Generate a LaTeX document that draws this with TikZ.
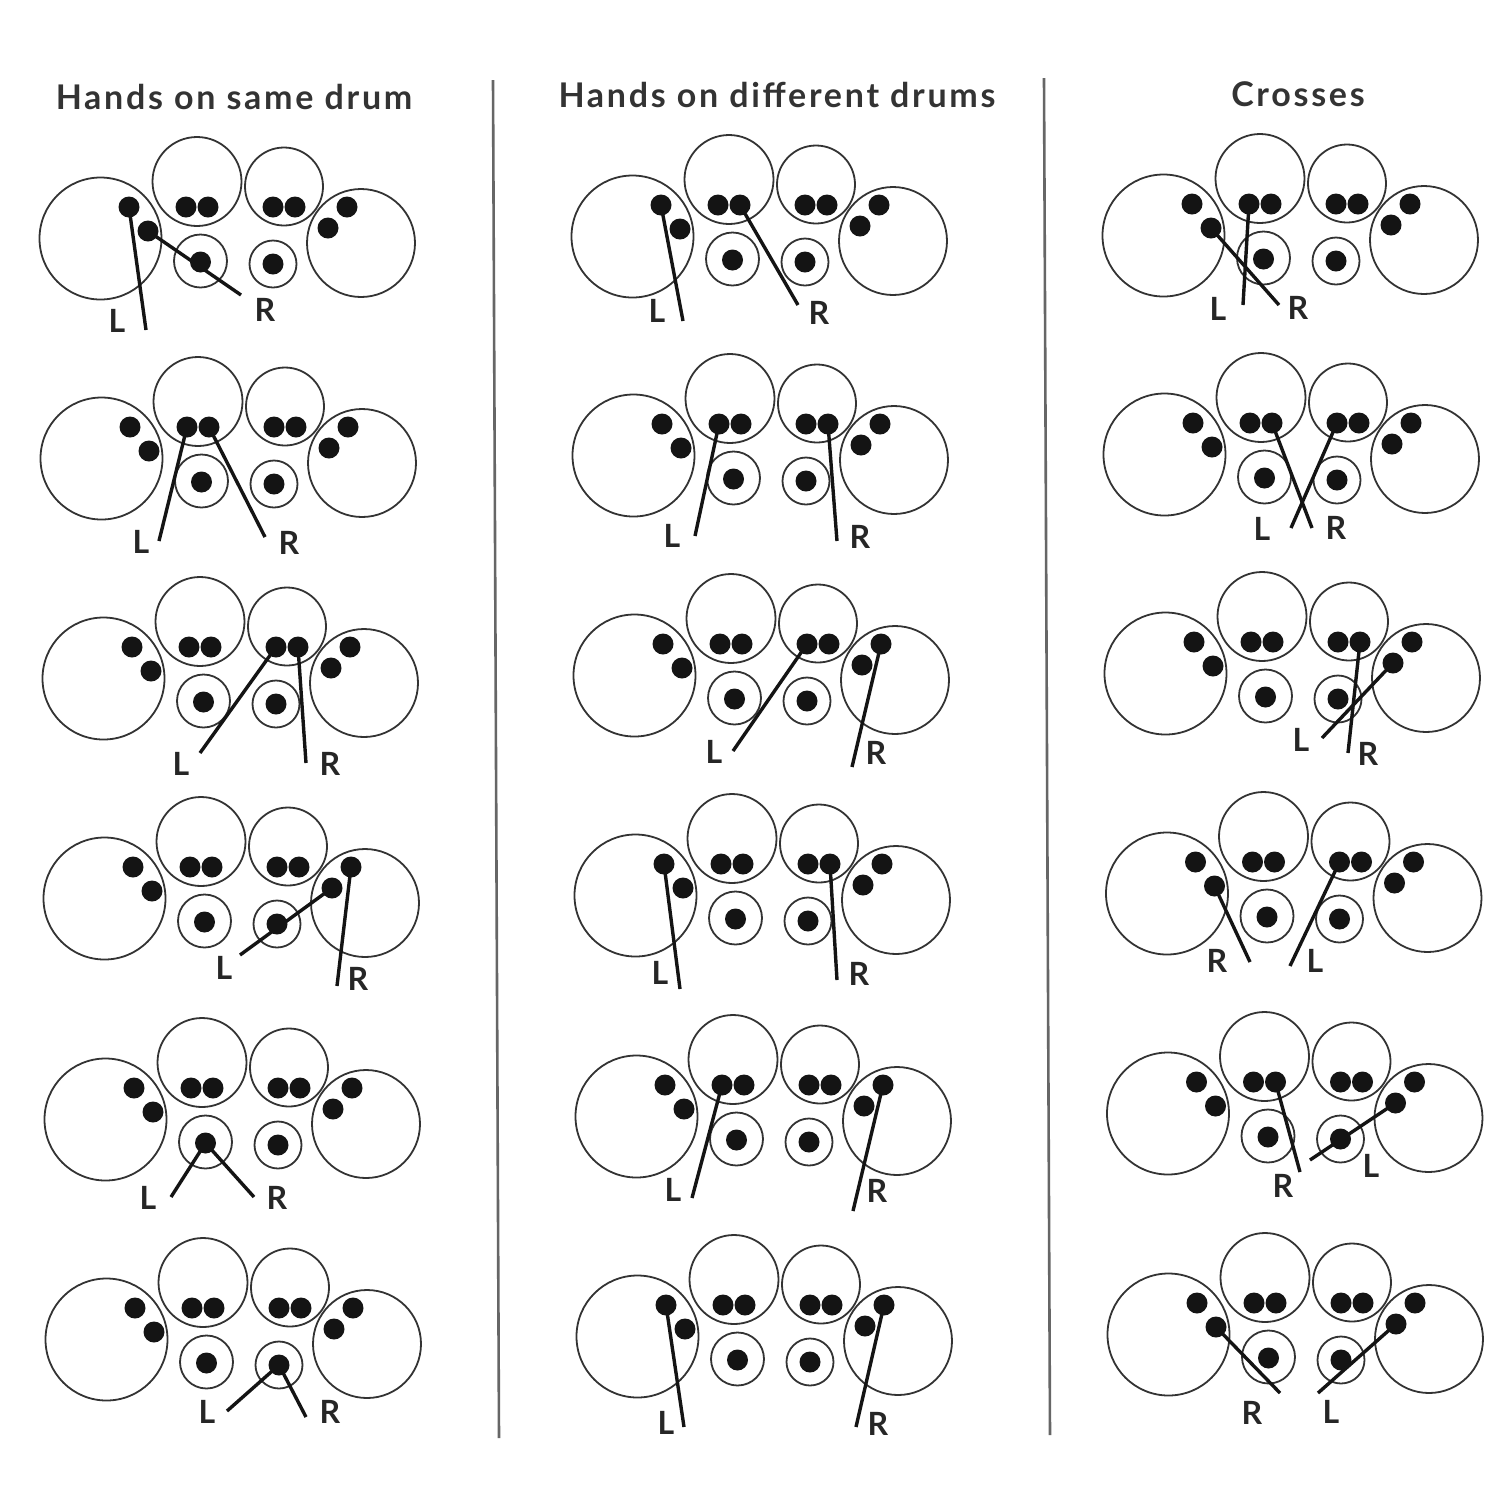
\documentclass[tikz,border=0pt]{standalone}
\usepackage{fontspec}
\setmainfont{Lato}
\newfontfamily\titlefont[LetterSpace=8]{Lato}
\tikzset{
  x=0.5pt,y=-0.5pt,
  ring/.style={circle,draw=black!80,line width=0.9pt,minimum size=#1*0.5pt,inner sep=0pt,outer sep=0pt},
  dotmark/.style={circle,fill=black!92,minimum size=10.5pt,inner sep=0pt,outer sep=0pt},
  handline/.style={black!92,line width=1.7pt},
  handlab/.style={font=\fontsize{16}{16}\selectfont\bfseries,text=black!85,inner sep=0pt},
  headtext/.style={font=\titlefont\fontsize{17}{17}\selectfont\bfseries,text=black!80,inner sep=0pt},
  divider/.style={black!60,line width=1.3pt}
}
\newcommand{\kit}[3]{%
  \begin{scope}[shift={(#2,#3)}]
    \node[ring=122] (#1-bl) at (100.5,238.5) {};
    \node[ring=89]  (#1-tl) at (197,181.5) {};
    \node[ring=78]  (#1-tr) at (284,186.5) {};
    \node[ring=108] (#1-br) at (361,243) {};
    \node[ring=53]  (#1-sl) at (200.5,261) {};
    \node[ring=47]  (#1-sr) at (273,264) {};
    \node[dotmark] (#1-a) at (129,207) {};
    \node[dotmark] (#1-b) at (148,231) {};
    \node[dotmark] (#1-c) at (186,207) {};
    \node[dotmark] (#1-d) at (208,207) {};
    \node[dotmark] (#1-e) at (273,207) {};
    \node[dotmark] (#1-f) at (295,207) {};
    \node[dotmark] (#1-g) at (347,207) {};
    \node[dotmark] (#1-h) at (328,228) {};
    \node[dotmark] (#1-i) at (200.5,262) {};
    \node[dotmark] (#1-j) at (273,264) {};
  \end{scope}}
% start node, id, free end x,y, letter, label x,y
\newcommand{\hand}[7]{%
  \coordinate (#2) at (#3,#4);
  \draw[handline] (#1.center) -- (#2);
  \node[handlab] (#2-lab) at (#6,#7) {#5};}
\begin{document}
\begin{tikzpicture}
\useasboundingbox (0,0) rectangle (1512,1512);
\fill[white] (0,0) rectangle (1512,1512);
\node[headtext] (t1) at (234,97) {Hands on same drum};
\node[headtext] (t2) at (777,95) {Hands on different drums};
\node[headtext] (t3) at (1298,94) {Crosses};
\coordinate (s1a) at (493,80); \coordinate (s1b) at (499,1438);
\coordinate (s2a) at (1044,78); \coordinate (s2b) at (1050,1435);
\draw[divider] (s1a) -- (s1b);
\draw[divider] (s2a) -- (s2b);
% column 1
\kit{p1}{0}{0}
\kit{p2}{1}{220}
\kit{p3}{3}{440}
\kit{p4}{4}{660}
\kit{p5}{5}{881}
\kit{p6}{6}{1101}
\hand{p1-a}{h1l}{146}{330}{L}{117}{321}
\hand{p1-b}{h1r}{241}{295}{R}{265}{310}
\hand{p2-c}{h2l}{159}{541}{L}{141}{542}
\hand{p2-d}{h2r}{265}{537}{R}{289}{543}
\hand{p3-e}{h3l}{200}{753}{L}{181}{764}
\hand{p3-f}{h3r}{306}{763}{R}{330}{764}
\hand{p4-h}{h4l}{240}{955}{L}{224}{968}
\hand{p4-g}{h4r}{337}{986}{R}{358}{979}
\hand{p5-i}{h5l}{171}{1197}{L}{148}{1198}
\hand{p5-i}{h5r}{254}{1197}{R}{277}{1198}
\hand{p6-j}{h6l}{227}{1411}{L}{207}{1412}
\hand{p6-j}{h6r}{306}{1417}{R}{330}{1412}
% column 2
\kit{q1}{532}{-2}
\kit{q2}{533}{217}
\kit{q3}{534}{437}
\kit{q4}{535}{657}
\kit{q5}{536}{878}
\kit{q6}{537}{1098}
\hand{q1-a}{k1l}{683}{321}{L}{657}{311}
\hand{q1-d}{k1r}{798}{305}{R}{819}{313}
\hand{q2-c}{k2l}{695}{536}{L}{672}{536}
\hand{q2-f}{k2r}{837}{541}{R}{860}{537}
\hand{q3-e}{k3l}{733}{751}{L}{714}{752}
\hand{q3-g}{k3r}{852}{767}{R}{876}{753}
\hand{q4-a}{k4l}{680}{989}{L}{660}{973}
\hand{q4-f}{k4r}{837}{980}{R}{859}{974}
\hand{q5-c}{k5l}{692}{1198}{L}{673}{1190}
\hand{q5-g}{k5r}{853}{1211}{R}{877}{1191}
\hand{q6-a}{k6l}{684}{1427}{L}{666}{1423}
\hand{q6-g}{k6r}{856}{1427}{R}{878}{1424}
% column 3
\kit{r1}{1063}{-3}
\kit{r2}{1064}{216}
\kit{r3}{1065}{435}
\kit{r4}{1066.5}{655}
\kit{r5}{1067.5}{875}
\kit{r6}{1068}{1096}
\hand{r1-c}{m1l}{1243}{305}{L}{1218}{309}
\hand{r1-b}{m1r}{1279}{305}{R}{1298}{308}
\hand{r2-e}{m2l}{1291}{528}{L}{1262}{529}
\hand{r2-d}{m2r}{1312}{528}{R}{1336}{528}
\hand{r3-h}{m3l}{1322}{738}{L}{1301}{740}
\hand{r3-f}{m3r}{1348}{753}{R}{1368}{754}
\hand{r4-b}{m4r}{1250}{962}{R}{1217}{961}
\hand{r4-e}{m4l}{1290}{966}{L}{1315}{961}
\hand{r5-d}{m5r}{1300}{1172}{R}{1283}{1186}
\hand{r5-h}{m5l}{1310}{1160}{L}{1371}{1166}
\hand{r6-b}{m6r}{1280}{1393}{R}{1252}{1413}
\hand{r6-h}{m6l}{1318}{1393}{L}{1331}{1412}
\end{tikzpicture}
\end{document}
